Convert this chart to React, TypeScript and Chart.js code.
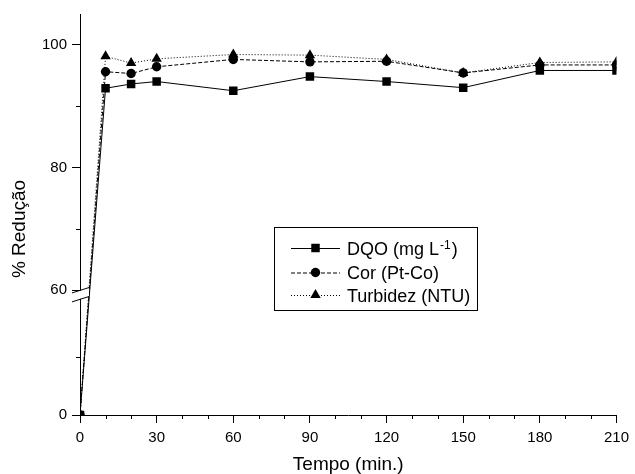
import React, { useEffect, useRef } from 'react';
import { Chart, registerables } from 'chart.js';

Chart.register(...registerables);

// ---- data ----
const times = [0, 10, 20, 30, 60, 90, 120, 150, 180, 210];
const dqo = [0, 92.9, 93.6, 94.0, 92.5, 94.8, 94.0, 93.0, 95.8, 95.8];
const cor = [0, 95.6, 95.3, 96.4, 97.6, 97.2, 97.3, 95.4, 96.7, 96.7];
const turbidez = [0, 98.1, 97.0, 97.7, 98.4, 98.3, 97.6, 95.4, 97.1, 97.2];

const seriesNames = ['DQO (mg L', 'Cor (Pt-Co)', 'Turbidez (NTU)'];
const dqoSuperscript = '-1';

const xTickValues = [0, 10, 20, 30, 40, 50, 60, 70, 80, 90, 100, 110, 120, 130, 140, 150, 160, 170, 180, 190, 200, 210];
const xTickLabels = ['0', '', '', '30', '', '', '60', '', '', '90', '', '', '120', '', '', '150', '', '', '180', '', '', '210'];
const yTickValues = [0, 30, 60, 70, 80, 90, 100];
const yTickLabels = ['0', '', '60', '', '80', '', '100'];

const xTitle = 'Tempo (min.)';
const yTitle = '% Redução';

// ---- axis break (display transform) ----
const BREAK = 60;
const LOWER_FACTOR = 0.3144;
const GAP = 1.46;
const Y_MAX = 105;
const toDisplay = (v: number) => (v >= BREAK ? v : BREAK - GAP - (BREAK - v) * LOWER_FACTOR);

const FONT = 'Arial, "Liberation Sans", Helvetica, sans-serif';

const styles = [
  { dash: [] as number[], point: 'rect', radius: 6 },
  { dash: [4, 2], point: 'circle', radius: 4.7 },
  { dash: [1, 2], point: 'triangle', radius: 6 },
];

function drawMarker(ctx: CanvasRenderingContext2D, type: string, x: number, y: number, r: number) {
  ctx.beginPath();
  if (type === 'rect') {
    const s = r * Math.SQRT1_2;
    ctx.rect(x - s, y - s, 2 * s, 2 * s);
  } else if (type === 'circle') {
    ctx.arc(x, y, r, 0, Math.PI * 2);
  } else {
    const w = r * Math.sqrt(3) / 2;
    ctx.moveTo(x, y - r);
    ctx.lineTo(x + w, y + r / 2);
    ctx.lineTo(x - w, y + r / 2);
    ctx.closePath();
  }
  ctx.fill();
}

const decorPlugin = {
  id: 'decor',
  afterDraw(chart: any) {
    const ctx: CanvasRenderingContext2D = chart.ctx;
    const xs = chart.scales.x;
    const ys = chart.scales.y;
    const area = chart.chartArea;
    ctx.save();
    ctx.strokeStyle = '#000';
    ctx.fillStyle = '#000';
    ctx.lineWidth = 1;

    // minor ticks
    xTickValues.forEach((v, i) => {
      if (!xTickLabels[i]) {
        const px = Math.round(xs.getPixelForValue(v)) + 0.5;
        ctx.beginPath();
        ctx.moveTo(px, area.bottom);
        ctx.lineTo(px, area.bottom + 4);
        ctx.stroke();
      }
    });
    yTickValues.forEach((v, i) => {
      if (!yTickLabels[i]) {
        const py = Math.round(ys.getPixelForValue(toDisplay(v))) + 0.5;
        ctx.beginPath();
        ctx.moveTo(area.left, py);
        ctx.lineTo(area.left - 4, py);
        ctx.stroke();
      }
    });

    // axis break marks
    const yUp = ys.getPixelForValue(BREAK);
    const yLow = ys.getPixelForValue(BREAK - GAP);
    const x0 = area.left - 8;
    const x1 = area.left + 9;
    const dy = 2.7;
    ctx.fillStyle = '#fff';
    ctx.beginPath();
    ctx.moveTo(x0, yUp + dy + 0.5);
    ctx.lineTo(x1, yUp - dy + 0.5);
    ctx.lineTo(x1, yLow - dy - 0.5);
    ctx.lineTo(x0, yLow + dy - 0.5);
    ctx.closePath();
    ctx.fill();
    ctx.beginPath();
    ctx.moveTo(x0, yUp + dy);
    ctx.lineTo(x1, yUp - dy);
    ctx.moveTo(x0, yLow + dy);
    ctx.lineTo(x1, yLow - dy);
    ctx.stroke();

    // axis titles
    ctx.fillStyle = '#000';
    ctx.font = `19px ${FONT}`;
    ctx.textAlign = 'center';
    ctx.textBaseline = 'alphabetic';
    ctx.fillText(xTitle, (area.left + area.right) / 2, 470);
    ctx.save();
    ctx.translate(25, 229);
    ctx.rotate(-Math.PI / 2);
    ctx.fillText(yTitle, 0, 0);
    ctx.restore();

    // legend
    const box = { l: 274.5, t: 227.5, r: 477.5, b: 310.5 };
    ctx.fillStyle = '#fff';
    ctx.fillRect(box.l, box.t, box.r - box.l, box.b - box.t);
    ctx.strokeStyle = '#000';
    ctx.strokeRect(box.l, box.t, box.r - box.l, box.b - box.t);
    const rows = [248, 272.5, 295];
    seriesNames.forEach((name, i) => {
      const yy = rows[i] + 0.5;
      ctx.strokeStyle = '#000';
      ctx.setLineDash(styles[i].dash);
      ctx.beginPath();
      ctx.moveTo(291, yy);
      ctx.lineTo(340, yy);
      ctx.stroke();
      ctx.setLineDash([]);
      ctx.fillStyle = '#000';
      drawMarker(ctx, styles[i].point, 315.5, rows[i], styles[i].radius);
      ctx.font = `18px ${FONT}`;
      ctx.textAlign = 'left';
      ctx.textBaseline = 'alphabetic';
      const base = rows[i] + 6.5;
      ctx.fillText(name, 347, base);
      if (i === 0) {
        const w = ctx.measureText(name).width;
        ctx.font = `12px ${FONT}`;
        ctx.fillText(dqoSuperscript, 347 + w + 1, base - 6);
        const w2 = ctx.measureText(dqoSuperscript).width;
        ctx.font = `18px ${FONT}`;
        ctx.fillText(')', 347 + w + 1 + w2 + 1, base);
      }
    });
    ctx.restore();
  },
};

export default function App() {
  const canvasRef = useRef<HTMLCanvasElement>(null);

  useEffect(() => {
    if (!canvasRef.current) return;
    const seriesValues = [dqo, cor, turbidez];
    const datasets = seriesValues.map((vals, i) => ({
      label: seriesNames[i],
      data: times.map((t, j) => ({ x: t, y: toDisplay(vals[j]) })),
      borderColor: '#000',
      backgroundColor: '#000',
      borderWidth: 1,
      borderDash: styles[i].dash,
      pointStyle: styles[i].point as any,
      pointRadius: styles[i].radius,
      pointBackgroundColor: '#000',
      pointBorderColor: '#000',
      pointBorderWidth: 0,
      tension: 0,
      fill: false,
      clip: 0,
    }));

    const chart = new Chart(canvasRef.current, {
      type: 'line',
      data: { datasets },
      options: {
        animation: false,
        responsive: false,
        devicePixelRatio: 1,
        layout: { padding: { top: 13, right: 13, left: 0, bottom: 0 } },
        plugins: { legend: { display: false }, tooltip: { enabled: false } },
        scales: {
          x: {
            type: 'linear',
            min: 0,
            max: 210,
            afterFit: (s: any) => { s.height = 59; },
            afterBuildTicks: (s: any) => { s.ticks = xTickValues.map((v) => ({ value: v })); },
            ticks: {
              autoSkip: false,
              maxRotation: 0,
              padding: 6,
              color: '#000',
              font: { family: FONT, size: 15 },
              callback: (_v: any, i: number) => xTickLabels[i],
            },
            grid: {
              drawOnChartArea: false,
              tickLength: 8,
              tickWidth: 1,
              tickColor: (c: any) => (xTickLabels[c.index] ? '#000' : 'rgba(0,0,0,0)'),
            },
            border: { display: true, color: '#000', width: 1 },
          },
          y: {
            type: 'linear',
            min: toDisplay(0),
            max: Y_MAX,
            afterFit: (s: any) => { s.width = 80; },
            afterBuildTicks: (s: any) => { s.ticks = yTickValues.map((v) => ({ value: toDisplay(v) })); },
            ticks: {
              autoSkip: false,
              padding: 5,
              color: '#000',
              font: { family: FONT, size: 15 },
              callback: (_v: any, i: number) => yTickLabels[i],
            },
            grid: {
              drawOnChartArea: false,
              tickLength: 8,
              tickWidth: 1,
              tickColor: (c: any) => (yTickLabels[c.index] ? '#000' : 'rgba(0,0,0,0)'),
            },
            border: { display: true, color: '#000', width: 1 },
          },
        },
      },
      plugins: [decorPlugin],
    });
    return () => chart.destroy();
  }, []);

  return (
    <div style={{ position: 'absolute', left: 0, top: 0, width: 635, height: 474, background: '#fff' }}>
      <canvas ref={canvasRef} width={635} height={474} />
    </div>
  );
}
